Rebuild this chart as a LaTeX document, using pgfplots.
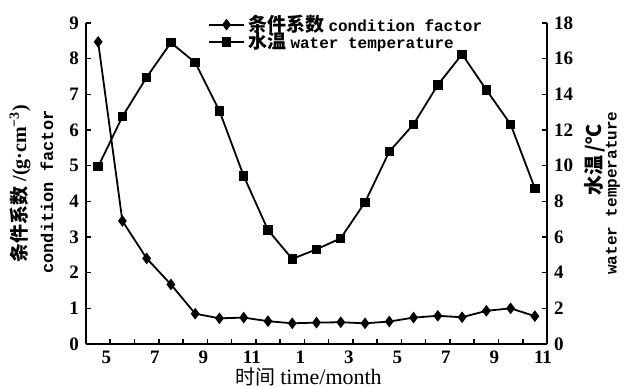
\documentclass[border=0pt]{standalone}
\usepackage{pgfplots}
\pgfplotsset{compat=1.18}
\usepackage{fontspec}
\setmainfont{Liberation Serif}
\setmonofont{Liberation Mono}
\newfontfamily\cjk{Noto Sans CJK SC}
\usetikzlibrary{calc}

\begin{document}
\begin{tikzpicture}
\useasboundingbox (-43pt,-21pt) rectangle (270pt,172pt);
\pgfplotsset{
  common/.style={
    scale only axis, width=230.5pt, height=160.5pt,
    at={(0,0)}, anchor=south west,
    xmin=-1, xmax=18, clip=false,
    tick align=inside, major tick length=2.5pt,
    every tick/.style={line width=0.8pt, black},
    axis line style={line width=1.1pt},
    /pgf/number format/assume math mode=true,
    ticklabel style={font=\fontsize{9.5}{11}\selectfont\bfseries},
  }
}
\begin{axis}[common,
  axis x line*=bottom, axis y line*=left,
  ymin=0, ymax=9, ytick={0,...,9},
  xtick={0,...,18}, xticklabels={5,,7,,9,,11,,1,,3,,5,,7,,9,,11},
  xticklabel style={xshift=-2pt},
]
\addplot[black, line width=0.9pt, mark=diamond*, mark size=2.2pt] coordinates {
(-0.5,8.47) (0.5,3.45) (1.5,2.40) (2.5,1.67) (3.5,0.85) (4.5,0.72) (5.5,0.74)
(6.5,0.64) (7.5,0.58) (8.5,0.60) (9.5,0.61) (10.5,0.58) (11.5,0.63) (12.5,0.74)
(13.5,0.79) (14.5,0.75) (15.5,0.93) (16.5,1.00) (17.5,0.78)
};
\node[rotate=90, inner sep=0pt] at ($(axis description cs:0,0.5)+(-33pt,0pt)$)
  {{\fontsize{9.5}{10}\selectfont\cjk\bfseries 条件系数}\ {\fontsize{10}{11}\selectfont\bfseries/(g·cm\textsuperscript{−3})}};
\node[rotate=90, inner sep=0pt] at ($(axis description cs:0,0.5)+(-19.5pt,-4.25pt)$)
  {\fontsize{8.5}{10}\selectfont\ttfamily\bfseries condition factor};
\node[inner sep=0pt] at ($(axis description cs:0.5,0)+(-4pt,-16.3pt)$)
  {{\fontsize{10}{11}\selectfont\cjk 时间}\ {\fontsize{11}{12}\selectfont time/month}};
\end{axis}
\begin{axis}[common,
  axis x line=none, axis y line*=right,
  ymin=0, ymax=18, ytick={0,2,...,18},
  legend style={at={(axis description cs:0.265,0.968)}, anchor=west, draw=none, fill=none,
    inner sep=0pt, row sep=-5pt, font=\fontsize{8}{9.5}\selectfont, cells={anchor=west}},
]
\addlegendimage{black, line width=0.9pt, mark=diamond*, mark size=2.2pt}
\addlegendentry{{\fontsize{9.5}{10}\selectfont\cjk\bfseries 条件系数} \texttt{\bfseries condition factor}}
\addplot[black, line width=0.9pt, mark=square*, mark size=1.9pt] coordinates {
(-0.5,9.94) (0.5,12.75) (1.5,14.96) (2.5,16.9) (3.5,15.78) (4.5,13.07) (5.5,9.42)
(6.5,6.39) (7.5,4.77) (8.5,5.31) (9.5,5.93) (10.5,7.95) (11.5,10.79) (12.5,12.32)
(13.5,14.53) (14.5,16.25) (15.5,14.25) (16.5,12.32) (17.5,8.73)
};
\addlegendentry{{\fontsize{9.5}{10}\selectfont\cjk\bfseries 水温} \texttt{\bfseries water temperature}}
\node[rotate=90, inner sep=0pt] at ($(axis description cs:1,0.5)+(24pt,11.75pt)$)
  {\fontsize{10}{11}\selectfont\cjk\bfseries 水温\,/℃};
\node[rotate=90, inner sep=0pt] at ($(axis description cs:1,0.5)+(33pt,-4.75pt)$)
  {\fontsize{8}{10}\selectfont\ttfamily\bfseries water temperature};
\end{axis}
\end{tikzpicture}
\end{document}
